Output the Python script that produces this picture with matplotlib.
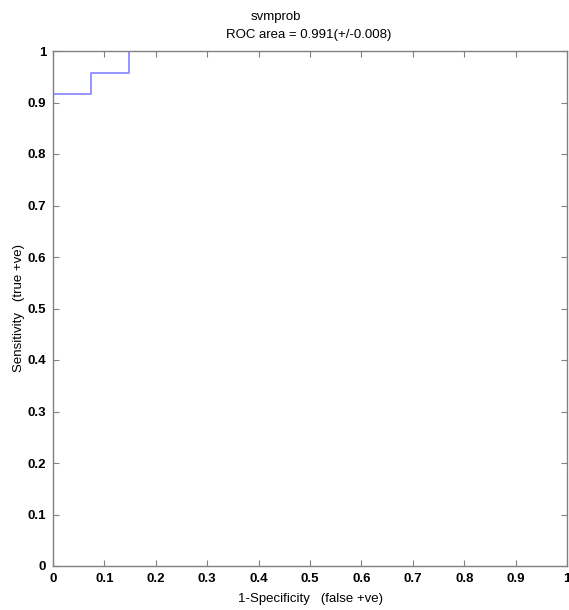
import matplotlib.pyplot as plt
import numpy as np

plt.rcParams['font.size'] = 9.5
plt.rcParams['font.family'] = 'Liberation Sans'

# ROC curve points (false +ve rate, true +ve rate)
fpr = [0.0, 0.074, 0.074, 0.148, 0.148]
tpr = [0.917, 0.917, 0.958, 0.958, 1.0]
ticks = np.round(np.arange(0, 1.01, 0.1), 1)
tick_labels = ["0", "0.1", "0.2", "0.3", "0.4", "0.5", "0.6", "0.7", "0.8", "0.9", "1"]

fig = plt.figure(figsize=(5.69, 6.10), dpi=100)
ax = fig.add_axes([53/569, 1 - 566/610, 514/569, 515/610])

ax.plot(fpr, tpr, color="#8c8cff", lw=1.3)

ax.set_xlim(0, 1)
ax.set_ylim(0, 1)
ax.set_xticks(ticks)
ax.set_yticks(ticks)
ax.set_xticklabels(tick_labels, fontweight="bold")
ax.set_yticklabels(tick_labels, fontweight="bold")
ax.tick_params(direction="in", length=4, color="#808080", top=True, right=True, pad=5)
for s in ax.spines.values():
    s.set_color("#808080")
    s.set_linewidth(1.0)

ax.set_xlabel("1-Specificity   (false +ve)")
ax.set_ylabel("Sensitivity   (true +ve)")
ax.xaxis.set_label_coords(0.5, -27/515)
ax.yaxis.set_label_coords(-28/514, 0.5)

fig.text(276/569, 1 - 17/610, "svmprob", ha="center", va="center")
fig.text(309/569, 1 - 35/610, "ROC area = 0.991(+/-0.008)", ha="center", va="center")

fig.savefig("out.png", dpi=100)
